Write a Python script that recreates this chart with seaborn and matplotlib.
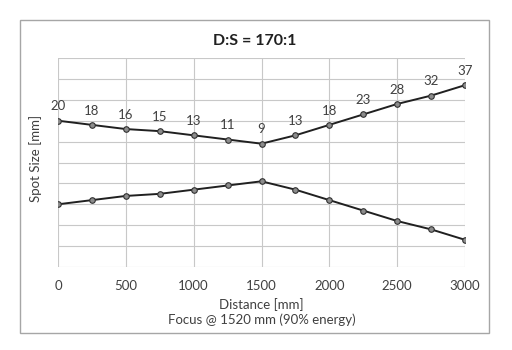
import matplotlib
matplotlib.use("Agg")
import matplotlib.pyplot as plt
import seaborn as sns
import pandas as pd
from matplotlib.patches import Rectangle

distance = [0, 250, 500, 750, 1000, 1250, 1500, 1750, 2000, 2250, 2500, 2750, 3000]
spot_size = [20, 18, 16, 15, 13, 11, 9, 13, 18, 23, 28, 32, 37]
x_ticks = [0, 500, 1000, 1500, 2000, 2500, 3000]

sns.set_theme(style="white")
plt.rcParams['font.family'] = ['Lato', 'DejaVu Sans']
txt = '#404040'
fs = 9.5

df = pd.DataFrame({
    'Distance': distance * 2,
    'Half': [s / 2 for s in spot_size] + [-s / 2 for s in spot_size],
    'Edge': ['upper'] * len(distance) + ['lower'] * len(distance),
})

fig = plt.figure(figsize=(5.12, 3.5), dpi=100)
fig.patches.append(Rectangle((20 / 512, 1 - 333 / 350), 469 / 512, 313 / 350,
                             transform=fig.transFigure, fill=False,
                             edgecolor='#a6a6a6', linewidth=1.0))
ax = fig.add_axes([58 / 512, 1 - 267 / 350, 407 / 512, 209 / 350])

sns.lineplot(data=df, x='Distance', y='Half', units='Edge', estimator=None,
             color='#202020', linewidth=1.4, marker='o', markersize=4,
             markerfacecolor='#8c8c8c', markeredgecolor='#303030',
             markeredgewidth=0.8, ax=ax, legend=False, zorder=3)

for d, s in zip(distance, spot_size):
    ax.annotate(str(s), (d, s / 2), xytext=(0, 6), textcoords='offset points',
                ha='center', va='bottom', fontsize=fs, color=txt)

ax.set_xlim(0, 3000)
ax.set_ylim(-25, 25)
ax.set_xticks(x_ticks)
ax.set_xticklabels([str(t) for t in x_ticks], fontsize=fs, color=txt)
ax.set_yticks(range(-25, 26, 5))
ax.set_yticklabels([])
ax.tick_params(axis='both', length=0, pad=9)
ax.grid(True, color='#c8c8c8', linewidth=0.8)
for sp in ax.spines.values():
    sp.set_visible(False)

ax.set_xlabel('Distance [mm]\nFocus @ 1520 mm (90% energy)', fontsize=fs,
              color=txt, labelpad=5, linespacing=1.15)
ax.set_ylabel('Spot Size [mm]', fontsize=fs, color=txt)
ax.yaxis.set_label_coords(-(58 - 42) / 407, 0.52)
fig.text(0.5 * (20 + 489) / 512, 1 - 41 / 350, 'D:S = 170:1', ha='center',
         va='center', fontsize=11.5, fontweight='bold', color='#202020')

fig.savefig('out.png', dpi=100)
